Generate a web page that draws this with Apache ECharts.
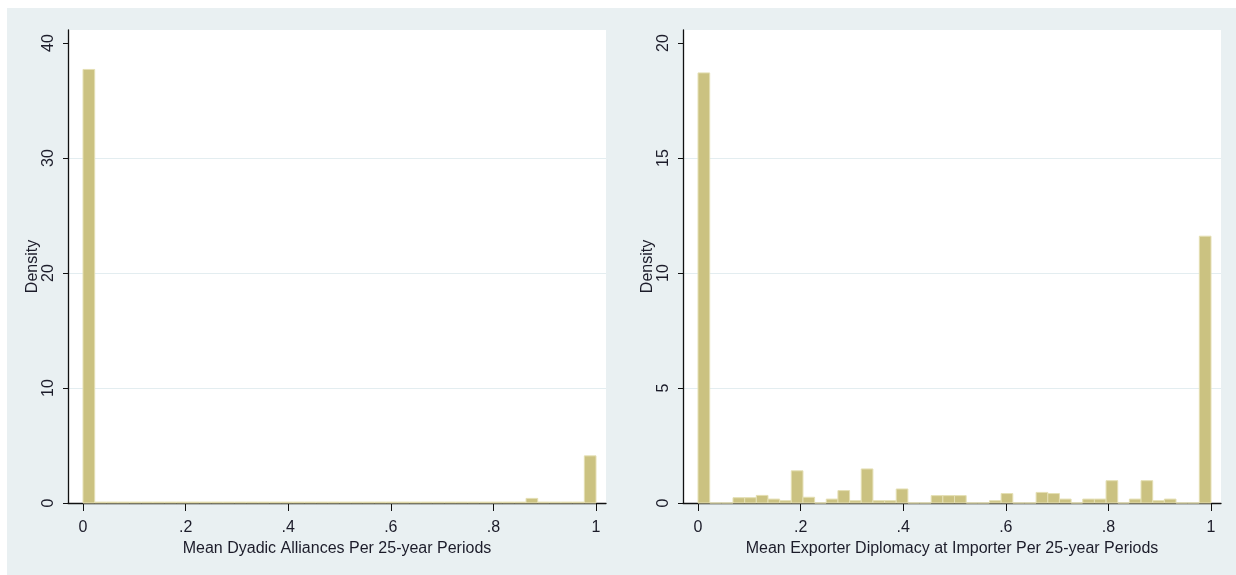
<!DOCTYPE html>
<html>
<head>
<meta charset="utf-8">
<script src="https://cdn.jsdelivr.net/npm/echarts@6/dist/echarts.min.js"></script>
<style>
  html, body { margin: 0; padding: 0; background: #ffffff; }
  #bg { position: absolute; left: 7px; top: 8px; width: 1229px; height: 567px; background: #e9f0f2; }
  #main { position: absolute; left: 0; top: 0; width: 1236px; height: 575px; }
</style>
</head>
<body>
<div id="bg"></div>
<div id="main"></div>
<script>
// histogram bins: 44 equal bins over [0, 1]
const binCount = 44;
const xTicks = [0, 0.2, 0.4, 0.6, 0.8, 1];

// left panel: Mean Dyadic Alliances
const leftTitle = "Mean Dyadic Alliances Per 25-year Periods";
const leftTicks = [0, 10, 20, 30, 40];
const leftDensity = [
  37.7, 0.08, 0.08, 0.08, 0.08, 0.08, 0.08, 0.08, 0.08, 0.08, 0.08,
  0.08, 0.08, 0.08, 0.08, 0.08, 0.08, 0.08, 0.08, 0.08, 0.08, 0.08,
  0.08, 0.08, 0.08, 0.08, 0.08, 0.08, 0.08, 0.08, 0.08, 0.08, 0.08,
  0.08, 0.08, 0.08, 0.08, 0.08, 0.4, 0.08, 0.08, 0.08, 0.08, 4.1
];

// right panel: Mean Exporter Diplomacy at Importer
const rightTitle = "Mean Exporter Diplomacy at Importer Per 25-year Periods";
const rightTicks = [0, 5, 10, 15, 20];
const rightDensity = [
  18.7, 0, 0, 0.23, 0.23, 0.33, 0.17, 0.1, 1.4, 0.25, 0,
  0.17, 0.54, 0.1, 1.48, 0.1, 0.1, 0.61, 0, 0, 0.32, 0.32,
  0.32, 0, 0, 0.1, 0.41, 0, 0, 0.46, 0.41, 0.17, 0,
  0.17, 0.17, 0.97, 0, 0.17, 0.97, 0.1, 0.17, 0, 0, 11.6
];

const font = "'Liberation Sans', Arial, sans-serif";
const textColor = "#1c1c2a";

function toBins(density) {
  return density.map((d, i) => [i / binCount, (i + 1) / binCount, d]);
}

function renderBar(params, api) {
  const top = api.coord([api.value(0), api.value(2)]);
  const bottom = api.coord([api.value(1), 0]);
  return {
    type: "rect",
    shape: {
      x: top[0],
      y: top[1],
      width: bottom[0] - top[0],
      height: bottom[1] - top[1],
    },
    style: { fill: "#cbc281", stroke: "#e4dfb3", lineWidth: 1 },
  };
}

function xAxisFor(gridIndex, title) {
  return {
    type: "value",
    gridIndex: gridIndex,
    min: -0.0293,
    max: 1.0195,
    name: title,
    nameLocation: "middle",
    nameGap: 35,
    nameTextStyle: { fontFamily: font, fontSize: 16, color: textColor },
    splitLine: { show: false },
    axisLine: { show: true, onZero: false, lineStyle: { color: "#111", width: 1.3 } },
    axisTick: { show: true, length: 8, customValues: xTicks, lineStyle: { color: "#111" } },
    axisLabel: {
      margin: 17,
      customValues: xTicks,
      fontFamily: font,
      fontSize: 16,
      color: textColor,
      formatter: (v) => (v === 0 ? "0" : v === 1 ? "1" : String(v).replace("0.", ".")),
    },
  };
}

function yAxisFor(gridIndex, ticks) {
  const step = ticks[1] - ticks[0];
  const top = ticks[ticks.length - 1];
  return {
    type: "value",
    gridIndex: gridIndex,
    min: 0,
    max: top * 473 / 460,
    interval: step,
    name: "Density",
    nameLocation: "middle",
    nameGap: 27,
    nameRotate: 90,
    nameTextStyle: { fontFamily: font, fontSize: 16, color: textColor },
    splitLine: { show: true, showMaxLine: false, lineStyle: { color: "#e3edf0", width: 1 } },
    axisLine: { show: true, onZero: false, lineStyle: { color: "#111", width: 1.3 } },
    axisTick: { show: true, length: 5, customValues: ticks, lineStyle: { color: "#111" } },
    axisLabel: {
      rotate: 90,
      margin: 11,
      customValues: ticks,
      fontFamily: font,
      fontSize: 16,
      color: textColor,
    },
  };
}

const chart = echarts.init(document.getElementById("main"));
chart.setOption({
  animation: false,
  backgroundColor: "transparent",
  grid: [
    { left: 68, right: 630, top: 30, bottom: 72, show: true, backgroundColor: "#ffffff", borderWidth: 0, outerBoundsMode: "none" },
    { left: 683, right: 15, top: 30, bottom: 72, show: true, backgroundColor: "#ffffff", borderWidth: 0, outerBoundsMode: "none" },
  ],
  xAxis: [xAxisFor(0, leftTitle), xAxisFor(1, rightTitle)],
  yAxis: [yAxisFor(0, leftTicks), yAxisFor(1, rightTicks)],
  series: [
    {
      type: "custom",
      xAxisIndex: 0,
      yAxisIndex: 0,
      renderItem: renderBar,
      encode: { x: [0, 1], y: 2 },
      data: toBins(leftDensity),
    },
    {
      type: "custom",
      xAxisIndex: 1,
      yAxisIndex: 1,
      renderItem: renderBar,
      encode: { x: [0, 1], y: 2 },
      data: toBins(rightDensity),
    },
  ],
});
</script>
</body>
</html>
